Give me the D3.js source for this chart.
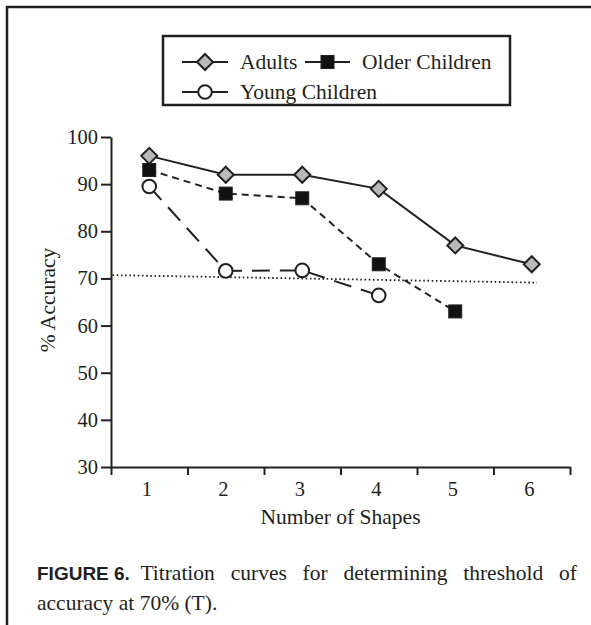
<!DOCTYPE html>
<html><head><meta charset="utf-8">
<script src="https://cdn.jsdelivr.net/npm/d3@7"></script>
<style>
html,body{margin:0;padding:0;background:#fff;}
svg{display:block;}
</style></head>
<body>
<script>
const shapes = [1, 2, 3, 4, 5, 6];
const adults = [96, 92, 92, 89, 77, 73];
const olderChildren = [93, 88, 87, 73, 63];
const youngChildren = [89.5, 71.6, 71.7, 66.4];
const thresholdX = [0.52, 6.07];
const thresholdY = [70.7, 69.1];
const yTicks = [30, 40, 50, 60, 70, 80, 90, 100];
const seriesNames = ["Adults", "Older Children", "Young Children"];

const W = 591, H = 625;
const ink = "#231f20";
const serif = "'Liberation Serif','Times New Roman',serif";
const sans = "'Liberation Sans',Arial,sans-serif";

const svg = d3.select("body").append("svg").attr("width", W).attr("height", H);

// outer frame (top and left only)
svg.append("path").attr("d", "M7,625V7H591").attr("fill", "none").attr("stroke", ink).attr("stroke-width", 2.5);

const x = d3.scaleLinear().domain([0.5, 6.5]).range([111, 570]);
const y = d3.scaleLinear().domain([30, 100]).range([467, 137]);

// y axis
const gy = svg.append("g").attr("transform", `translate(${x(0.5)},0)`)
  .call(d3.axisLeft(y).tickValues(yTicks).tickSize(10).tickSizeOuter(0).tickPadding(3));
gy.select(".domain").attr("stroke", ink).attr("stroke-width", 2);
gy.selectAll(".tick line").attr("stroke", ink).attr("stroke-width", 2);
gy.selectAll(".tick text").attr("font-family", serif).attr("font-size", 20.5).attr("fill", ink);

// x axis: tick marks between categories
const bounds = d3.range(0.5, 7, 1);
const gx = svg.append("g").attr("transform", `translate(0,${y(30)})`)
  .call(d3.axisBottom(x).tickValues(bounds).tickFormat("").tickSize(8).tickSizeOuter(0));
gx.select(".domain").attr("stroke", ink).attr("stroke-width", 2);
gx.selectAll(".tick line").attr("stroke", ink).attr("stroke-width", 2);

const gxl = svg.append("g").attr("transform", `translate(-3,${y(30)})`)
  .call(d3.axisBottom(x).tickValues(shapes).tickFormat(d3.format("d")).tickSize(0).tickPadding(14));
gxl.select(".domain").remove();
gxl.selectAll(".tick text").attr("font-family", serif).attr("font-size", 20.5).attr("fill", ink);

// axis titles
svg.append("text").attr("x", (x(0.5) + x(6.5)) / 2).attr("y", 524).attr("text-anchor", "middle")
  .attr("font-family", serif).attr("font-size", 21.5).attr("fill", ink).text("Number of Shapes");
svg.append("text").attr("transform", `translate(55,${(y(30) + y(100)) / 2 - 2}) rotate(-90)`)
  .attr("text-anchor", "middle").attr("font-family", serif).attr("font-size", 21.5).attr("fill", ink)
  .text("% Accuracy");

// threshold line
svg.append("line")
  .attr("x1", x(thresholdX[0])).attr("y1", y(thresholdY[0]))
  .attr("x2", x(thresholdX[1])).attr("y2", y(thresholdY[1]))
  .attr("stroke", ink).attr("stroke-width", 1.8).attr("stroke-dasharray", "1.6,2.6");

const line = d3.line().x(d => x(d[0])).y(d => y(d[1]));
const mk = vals => vals.map((v, i) => [shapes[i], v]);

const styles = [
  { data: mk(adults), dash: null },
  { data: mk(olderChildren), dash: "7,5" },
  { data: mk(youngChildren), dash: "18,10" }
];
styles.forEach(s => {
  svg.append("path").attr("d", line(s.data)).attr("fill", "none").attr("stroke", ink)
    .attr("stroke-width", 2).attr("stroke-dasharray", s.dash);
});

function diamond(g, cx, cy) {
  g.append("path").attr("d", `M${cx},${cy - 8}L${cx + 8},${cy}L${cx},${cy + 8}L${cx - 8},${cy}Z`)
    .attr("fill", "#b9b9b9").attr("stroke", ink).attr("stroke-width", 2);
}
function square(g, cx, cy) {
  g.append("rect").attr("x", cx - 6.5).attr("y", cy - 6.5).attr("width", 13).attr("height", 13)
    .attr("fill", "#111").attr("stroke", ink).attr("stroke-width", 1);
}
function circle(g, cx, cy) {
  g.append("circle").attr("cx", cx).attr("cy", cy).attr("r", 6.8)
    .attr("fill", "#fff").attr("stroke", ink).attr("stroke-width", 2);
}
const markFns = [diamond, square, circle];
const gm = svg.append("g");
styles.forEach((s, k) => s.data.forEach(d => markFns[k](gm, x(d[0]), y(d[1]))));

// legend
const lg = svg.append("g");
lg.append("rect").attr("x", 163).attr("y", 36).attr("width", 347).attr("height", 69)
  .attr("fill", "#fff").attr("stroke", ink).attr("stroke-width", 2.5);
const legendItems = [
  { name: seriesNames[0], x0: 182, x1: 228, tx: 240, ty: 62, f: diamond },
  { name: seriesNames[1], x0: 305, x1: 350, tx: 362, ty: 62, f: square },
  { name: seriesNames[2], x0: 182, x1: 228, tx: 240, ty: 92, f: circle }
];
legendItems.forEach(it => {
  lg.append("line").attr("x1", it.x0).attr("x2", it.x1).attr("y1", it.ty).attr("y2", it.ty)
    .attr("stroke", ink).attr("stroke-width", 2);
  it.f(lg, (it.x0 + it.x1) / 2, it.ty);
  lg.append("text").attr("x", it.tx).attr("y", it.ty + 7).attr("font-family", serif)
    .attr("font-size", 21.5).attr("fill", ink).text(it.name);
});

// caption
const capLeft = 37, capRight = 577;
const bold = svg.append("text").attr("x", capLeft).attr("y", 580).attr("fill", ink)
  .attr("font-family", sans).attr("font-weight", "bold").attr("font-size", 19).text("FIGURE 6.");
const boldW = bold.node().getComputedTextLength();
const words = "Titration curves for determining threshold of";
const rest = svg.append("text").attr("y", 580).attr("fill", ink)
  .attr("font-family", serif).attr("font-size", 21.5).attr("text-anchor", "end")
  .attr("x", capRight).text(words);
const natural = rest.node().getComputedTextLength();
const gaps = words.split(" ").length; // gaps incl. the one after "FIGURE 6."
const avail = capRight - capLeft - boldW;
const ws = (avail - natural) / gaps;
rest.attr("word-spacing", ws);
svg.append("text").attr("x", capLeft).attr("y", 610).attr("fill", ink)
  .attr("font-family", serif).attr("font-size", 21.5).text("accuracy at 70% (T).");
</script>
</body></html>
